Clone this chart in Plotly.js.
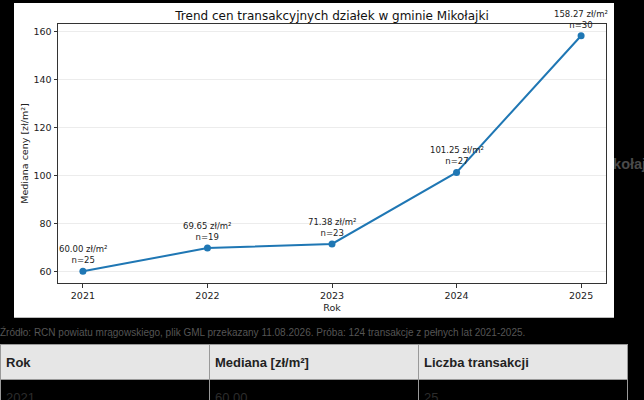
<!DOCTYPE html>
<html>
<head>
<meta charset="utf-8">
<script src="https://cdn.plot.ly/plotly-3.0.1.min.js"></script>
<style>
  body { margin: 0; background: #000; font-family: "Liberation Sans", Arial, sans-serif; width: 644px; height: 400px; overflow: hidden; position: relative; }
  #behind { position: absolute; left: 597px; top: 156px; color: #4a4a4a; font-weight: bold; font-size: 14.5px; white-space: nowrap; z-index: 0; }
  #plot { position: absolute; left: 14px; top: 3px; width: 600px; height: 314px; background: #fff; z-index: 1; border-bottom: 1px solid #bbb; }
  #src { position: absolute; left: 0; top: 327px; color: #555; font-size: 10px; white-space: nowrap; }
  table { position: absolute; left: 0; top: 344px; width: 628px; border-collapse: collapse; table-layout: fixed; }
  th, td { border: 1px solid #999; text-align: left; padding: 0 5px; font-size: 13px; }
  th { background: #e6e6e6; color: #222; height: 34px; }
  td { color: #2c2c2c; height: 34px; background: #000; }
</style>
</head>
<body>
<div id="behind">Mikołajki</div>
<div id="plot"></div>
<div id="src">Źródło: RCN powiatu mrągowskiego, plik GML przekazany 11.08.2026. Próba: 124 transakcje z pełnych lat 2021-2025.</div>
<table id="tab"></table>
<script>
window.addEventListener('load', function(){
// values
var years   = [2021, 2022, 2023, 2024, 2025];
var medians = [60.00, 69.65, 71.38, 101.25, 158.27];
var counts  = [25, 19, 23, 27, 30];
var headers = ['Rok', 'Mediana [zł/m²]', 'Liczba transakcji'];

var blue = '#1f77b4';
var mpl = 'DejaVu Sans, sans-serif';

var data = [{
  x: years,
  y: medians,
  type: 'scatter',
  mode: 'lines+markers',
  line: {color: blue, width: 2},
  marker: {color: blue, size: 7},
  cliponaxis: false,
  hoverinfo: 'none'
}];

// labels above each point
var notes = [];
for (var i = 0; i < years.length; i++) {
  notes.push({
    x: years[i], y: medians[i],
    text: medians[i].toFixed(2) + ' zł/m²<br>n=' + counts[i],
    showarrow: false, yanchor: 'bottom', yshift: 4,
    font: {family: mpl, size: 8.5, color: '#222'}
  });
}

var layout = {
  width: 600, height: 314,
  margin: {l: 44, r: 8, t: 21, b: 34, pad: 0},
  paper_bgcolor: '#fff', plot_bgcolor: '#fff',
  showlegend: false,
  font: {family: mpl, color: '#222'},
  title: {text: 'Trend cen transakcyjnych działek w gminie Mikołajki', font: {family: mpl, size: 12, color: '#111'}, x: 0.5, xref: 'paper', y: 0.96, yanchor: 'middle'},
  xaxis: {
    range: [2020.8, 2025.2], tickvals: years, ticktext: years.map(String),
    showgrid: false, zeroline: false, showline: true, mirror: true, linecolor: '#333', linewidth: 1,
    ticks: 'outside', ticklen: 3.5, tickcolor: '#333', tickfont: {size: 9.5, color: '#222'},
    title: {text: 'Rok', font: {size: 9.5}, standoff: 4}
  },
  yaxis: {
    range: [55.09, 163.18], tickvals: [60, 80, 100, 120, 140, 160],
    showgrid: true, gridcolor: '#ececec', zeroline: false, showline: true, mirror: true, linecolor: '#333', linewidth: 1,
    ticks: 'outside', ticklen: 3.5, tickcolor: '#333', tickfont: {size: 9.5, color: '#222'},
    title: {text: 'Mediana ceny [zł/m²]', font: {size: 9.5}, standoff: 3}
  },
  annotations: notes
};

Plotly.newPlot('plot', data, layout, {displayModeBar: false, staticPlot: true});

// table under the chart
var tab = document.getElementById('tab');
var html = '<tr>' + headers.map(function(h){ return '<th>' + h + '</th>'; }).join('') + '</tr>';
for (var i = 0; i < years.length; i++) {
  html += '<tr><td>' + years[i] + '</td><td>' + medians[i].toFixed(2) + '</td><td>' + counts[i] + '</td></tr>';
}
tab.innerHTML = html;
});
</script>
</body>
</html>
